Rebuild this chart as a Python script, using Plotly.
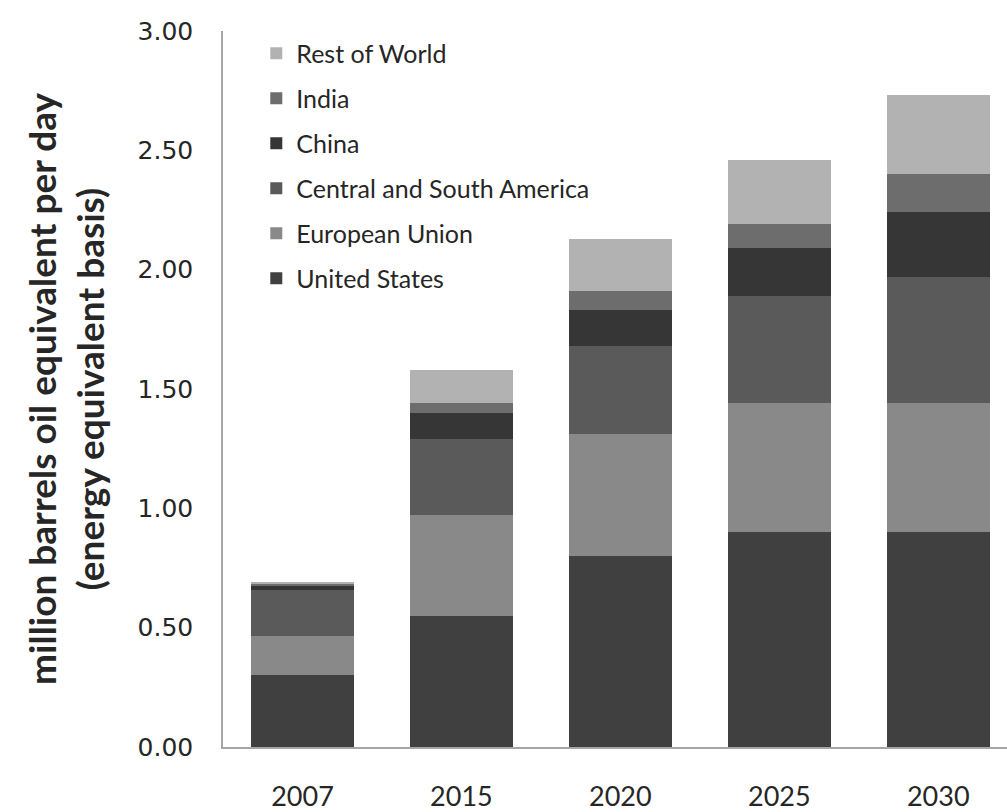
import plotly.graph_objects as go

# Projected consumption by region (million barrels oil equivalent per day)
years = ["2007", "2015", "2020", "2025", "2030"]
united_states = [0.30, 0.55, 0.80, 0.90, 0.90]
european_union = [0.167, 0.42, 0.51, 0.54, 0.54]
central_south_america = [0.19, 0.32, 0.37, 0.45, 0.53]
china = [0.02, 0.11, 0.15, 0.20, 0.27]
india = [0.005, 0.04, 0.08, 0.10, 0.16]
rest_of_world = [0.01, 0.14, 0.22, 0.27, 0.33]

y_ticks = [0.0, 0.5, 1.0, 1.5, 2.0, 2.5, 3.0]
y_tick_labels = ["0.00", "0.50", "1.00", "1.50", "2.00", "2.50", "3.00"]

series = [
    ("United States", united_states, "#404040"),
    ("European Union", european_union, "#898989"),
    ("Central and South America", central_south_america, "#5a5a5a"),
    ("China", china, "#363636"),
    ("India", india, "#6d6d6d"),
    ("Rest of World", rest_of_world, "#b2b2b2"),
]

fig = go.Figure()
n = len(series)
for i, (name, vals, color) in enumerate(series):
    fig.add_trace(go.Bar(
        x=years, y=vals, name=name, legendgroup=name,
        legendrank=1000 + (n - i),  # stack top listed first
        marker=dict(color=color, line=dict(width=0)),
        width=0.65,
    ))

W, H = 1007, 812
left, right, top, bottom = 222.7, 0, 30.5, 64.7
plot_w = W - left - right
plot_h = H - top - bottom

fig.update_layout(
    width=W, height=H,
    barmode="stack",
    paper_bgcolor="white", plot_bgcolor="white",
    margin=dict(l=left, r=right, t=top, b=bottom, pad=0, autoexpand=False),
    font=dict(family="Lato", color="#262626"),
    legend=dict(
        traceorder="grouped",
        tracegroupgap=9.5,
        x=(256 - left) / plot_w, y=1 - (30 - top) / plot_h,
        xanchor="left", yanchor="top",
        bgcolor="rgba(0,0,0,0)",
        font=dict(family="Lato", size=25, color="#262626"),
        itemwidth=30,
    ),
    xaxis=dict(
        type="category",
        range=[-0.5, 4.5 - 10.7 / 159],
        showline=True, linecolor="#a6a6a6", linewidth=1.5,
        ticks="", showgrid=False, tickangle=0,
        tickfont=dict(family="Lato", size=27, color="#262626"),
        ticklabelstandoff=25,
    ),
    yaxis=dict(
        range=[0, 3],
        tickvals=y_ticks, ticktext=y_tick_labels,
        showline=True, linecolor="#a6a6a6", linewidth=1.5,
        ticks="", showgrid=False, zeroline=False,
        tickfont=dict(family="DejaVu Sans", size=25, color="#262626"),
        ticklabelstandoff=23,
        title=dict(
            text="<b>million barrels oil equivalent per day<br>(energy equivalent basis)</b>",
            font=dict(family="Lato", size=37, color="#262626"),
            standoff=22,
        ),
    ),
)

fig.write_html("out.html")
